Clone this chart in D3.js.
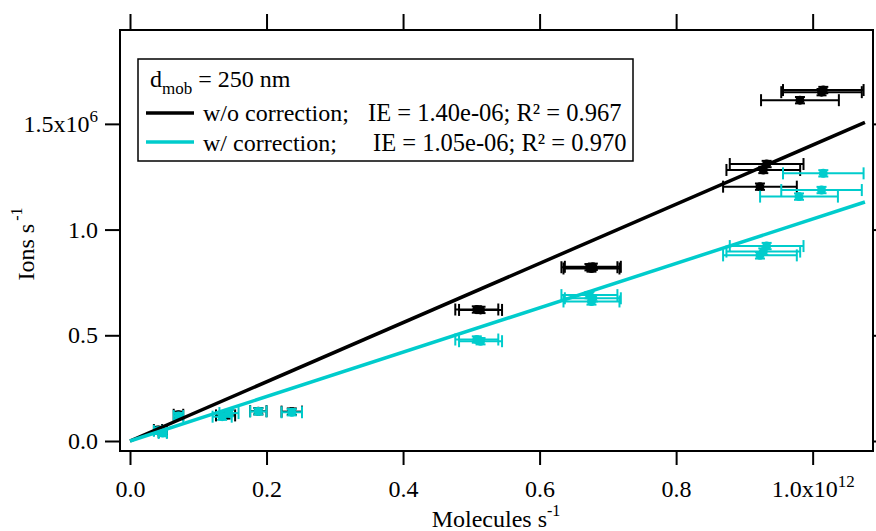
<!DOCTYPE html>
<html>
<head>
<meta charset="utf-8">
<script src="https://cdn.jsdelivr.net/npm/d3@7/dist/d3.min.js"></script>
<style>
  html, body { margin: 0; padding: 0; background: #fff; }
  svg { display: block; font-family: "Liberation Serif", "Times New Roman", serif; }
</style>
</head>
<body>
<svg id="chart" width="876" height="531"></svg>
<script>
// Molecules s^-1 in units of 1e12, ions s^-1 in units of 1e6
const xTicks = [0.0, 0.2, 0.4, 0.6, 0.8, 1.0];
const xTickLabels = ["0.0", "0.2", "0.4", "0.6", "0.8", "1.0x10"];
const yTicks = [0.0, 0.5, 1.0, 1.5];
const yTickLabels = ["0.0", "0.5", "1.0", "1.5x10"];

// without correction
const rawX    = [0.041, 0.048, 0.071, 0.140, 0.188, 0.237, 0.508, 0.5135, 0.673, 0.678, 0.676, 0.9326, 0.9277, 0.9228, 0.9814, 1.0156, 1.013];
const rawY    = [0.052, 0.043, 0.124, 0.121, 0.141, 0.139, 0.622, 0.620, 0.822, 0.824, 0.816, 1.310, 1.282, 1.203, 1.612, 1.660, 1.650];
const rawXErr = [0.006, 0.006, 0.007, 0.014, 0.012, 0.015, 0.0315, 0.0315, 0.041, 0.041, 0.041, 0.054, 0.054, 0.054, 0.057, 0.059, 0.059];

// with correction
const corrX    = [0.041, 0.048, 0.071, 0.135, 0.145, 0.188, 0.237, 0.508, 0.5135, 0.673, 0.678, 0.676, 0.9326, 0.9277, 0.9228, 0.980, 1.0156, 1.013];
const corrY    = [0.048, 0.038, 0.118, 0.115, 0.132, 0.140, 0.136, 0.480, 0.472, 0.690, 0.675, 0.660, 0.922, 0.896, 0.878, 1.156, 1.266, 1.187];
const corrXErr = [0.006, 0.006, 0.007, 0.014, 0.014, 0.012, 0.015, 0.0315, 0.0315, 0.041, 0.041, 0.041, 0.054, 0.054, 0.054, 0.057, 0.059, 0.059];

const yErr = 0.015;

// linear fits through the origin (slope = ionization efficiency, ions per 1e6 / molecules per 1e12)
const fitXEnd = 1.0766;
const rawSlope = 1.40;
const corrSlope = 1.05;

const BLACK = "#000000";
const CYAN = "#00cccc";

const svg = d3.select("#chart");
const L = 120, R = 873, T = 30, B = 451;

const x = d3.scaleLinear().domain([-0.01465, 1.0884]).range([L, R]);
const y = d3.scaleLinear().domain([-0.0473, 1.944]).range([B, T]);

// frame
svg.append("rect")
  .attr("x", L).attr("y", T).attr("width", R - L).attr("height", B - T)
  .attr("fill", "none").attr("stroke", "#000").attr("stroke-width", 2);

function styleAxis(g) {
  g.select(".domain").remove();
  g.selectAll(".tick line").attr("stroke", "#000").attr("stroke-width", 2);
  g.selectAll("text").attr("fill", "#000").attr("font-size", 24)
    .attr("font-family", "Liberation Serif, serif");
}

// bottom axis
const gx = svg.append("g").attr("transform", `translate(0,${B})`)
  .call(d3.axisBottom(x).tickValues(xTicks).tickSize(14)
    .tickFormat((d, i) => xTickLabels[i]));
styleAxis(gx);
gx.selectAll("text").attr("y", 46).attr("dy", 0);
gx.selectAll("text").filter((d, i) => i === xTicks.length - 1)
  .append("tspan").attr("dy", -10).attr("font-size", 17).text("12");

// top axis (ticks only)
const gt = svg.append("g").attr("transform", `translate(0,${T})`)
  .call(d3.axisTop(x).tickValues(xTicks).tickSize(16).tickFormat(""));
styleAxis(gt);

// left axis
const gy = svg.append("g").attr("transform", `translate(${L},0)`)
  .call(d3.axisLeft(y).tickValues(yTicks).tickSize(15).tickPadding(7)
    .tickFormat((d, i) => yTickLabels[i]));
styleAxis(gy);
gy.selectAll("text").filter((d, i) => i === yTicks.length - 1)
  .append("tspan").attr("dy", -10).attr("font-size", 17).text("6");

// right axis (ticks only)
const gr = svg.append("g").attr("transform", `translate(${R},0)`)
  .call(d3.axisRight(y).tickValues(yTicks).tickSize(15).tickFormat(""));
styleAxis(gr);

// axis titles
const xt = svg.append("text").attr("x", 496).attr("y", 527)
  .attr("text-anchor", "middle").attr("font-size", 24).text("Molecules s");
xt.append("tspan").attr("dy", -11).attr("font-size", 16).text("-1");

const yt = svg.append("text").attr("transform", "translate(34,244) rotate(-90)")
  .attr("text-anchor", "middle").attr("font-size", 24).text("Ions s");
yt.append("tspan").attr("dx", 3).attr("dy", -12).attr("font-size", 16).text("-1");

// error bars + markers
function drawSeries(xs, ys, xe, color) {
  const g = svg.append("g").attr("stroke", color).attr("fill", color).attr("stroke-width", 2);
  xs.forEach((xv, i) => {
    const cx = x(xv), cy = y(ys[i]);
    const x0 = x(xv - xe[i]), x1 = x(xv + xe[i]);
    const y0 = y(ys[i] + yErr), y1 = y(ys[i] - yErr);
    g.append("line").attr("x1", x0).attr("x2", x1).attr("y1", cy).attr("y2", cy);
    g.append("line").attr("x1", x0).attr("x2", x0).attr("y1", cy - 6).attr("y2", cy + 6);
    g.append("line").attr("x1", x1).attr("x2", x1).attr("y1", cy - 6).attr("y2", cy + 6);
    g.append("line").attr("x1", cx).attr("x2", cx).attr("y1", y0).attr("y2", y1);
    g.append("line").attr("x1", cx - 5).attr("x2", cx + 5).attr("y1", y0).attr("y2", y0);
    g.append("line").attr("x1", cx - 5).attr("x2", cx + 5).attr("y1", y1).attr("y2", y1);
    g.append("circle").attr("cx", cx).attr("cy", cy).attr("r", 4.5).attr("stroke", "none");
  });
}
drawSeries(rawX, rawY, rawXErr, BLACK);
drawSeries(corrX, corrY, corrXErr, CYAN);

// fit lines
const line = d3.line().x(d => x(d[0])).y(d => y(d[1]));
svg.append("path").attr("d", line([[0, 0], [fitXEnd, rawSlope * fitXEnd]]))
  .attr("stroke", BLACK).attr("stroke-width", 3.5).attr("fill", "none");
svg.append("path").attr("d", line([[0, 0], [fitXEnd, corrSlope * fitXEnd]]))
  .attr("stroke", CYAN).attr("stroke-width", 3.5).attr("fill", "none");

// legend
const lg = svg.append("g");
lg.append("rect").attr("x", 138).attr("y", 59).attr("width", 495).attr("height", 102)
  .attr("fill", "#fff").attr("stroke", "#000").attr("stroke-width", 1.5);
const t1 = lg.append("text").attr("x", 150).attr("y", 87).attr("font-size", 24);
t1.append("tspan").text("d");
t1.append("tspan").attr("dy", 7).attr("font-size", 17).text("mob");
t1.append("tspan").attr("dy", -7).text(" = 250 nm");

const legendRows = [
  { color: BLACK, label: "w/o correction;", stats: "IE = 1.40e-06; R² = 0.967", statsX: 368, ly: 113, ty: 121 },
  { color: CYAN,  label: "w/ correction;",  stats: "IE = 1.05e-06; R² = 0.970", statsX: 373, ly: 142, ty: 151 }
];
legendRows.forEach(r => {
  lg.append("line").attr("x1", 146).attr("x2", 194).attr("y1", r.ly).attr("y2", r.ly)
    .attr("stroke", r.color).attr("stroke-width", 3.5);
  lg.append("text").attr("x", 203).attr("y", r.ty).attr("font-size", 24).text(r.label);
  lg.append("text").attr("x", r.statsX).attr("y", r.ty).attr("font-size", 24.5).text(r.stats);
});
</script>
</body>
</html>
